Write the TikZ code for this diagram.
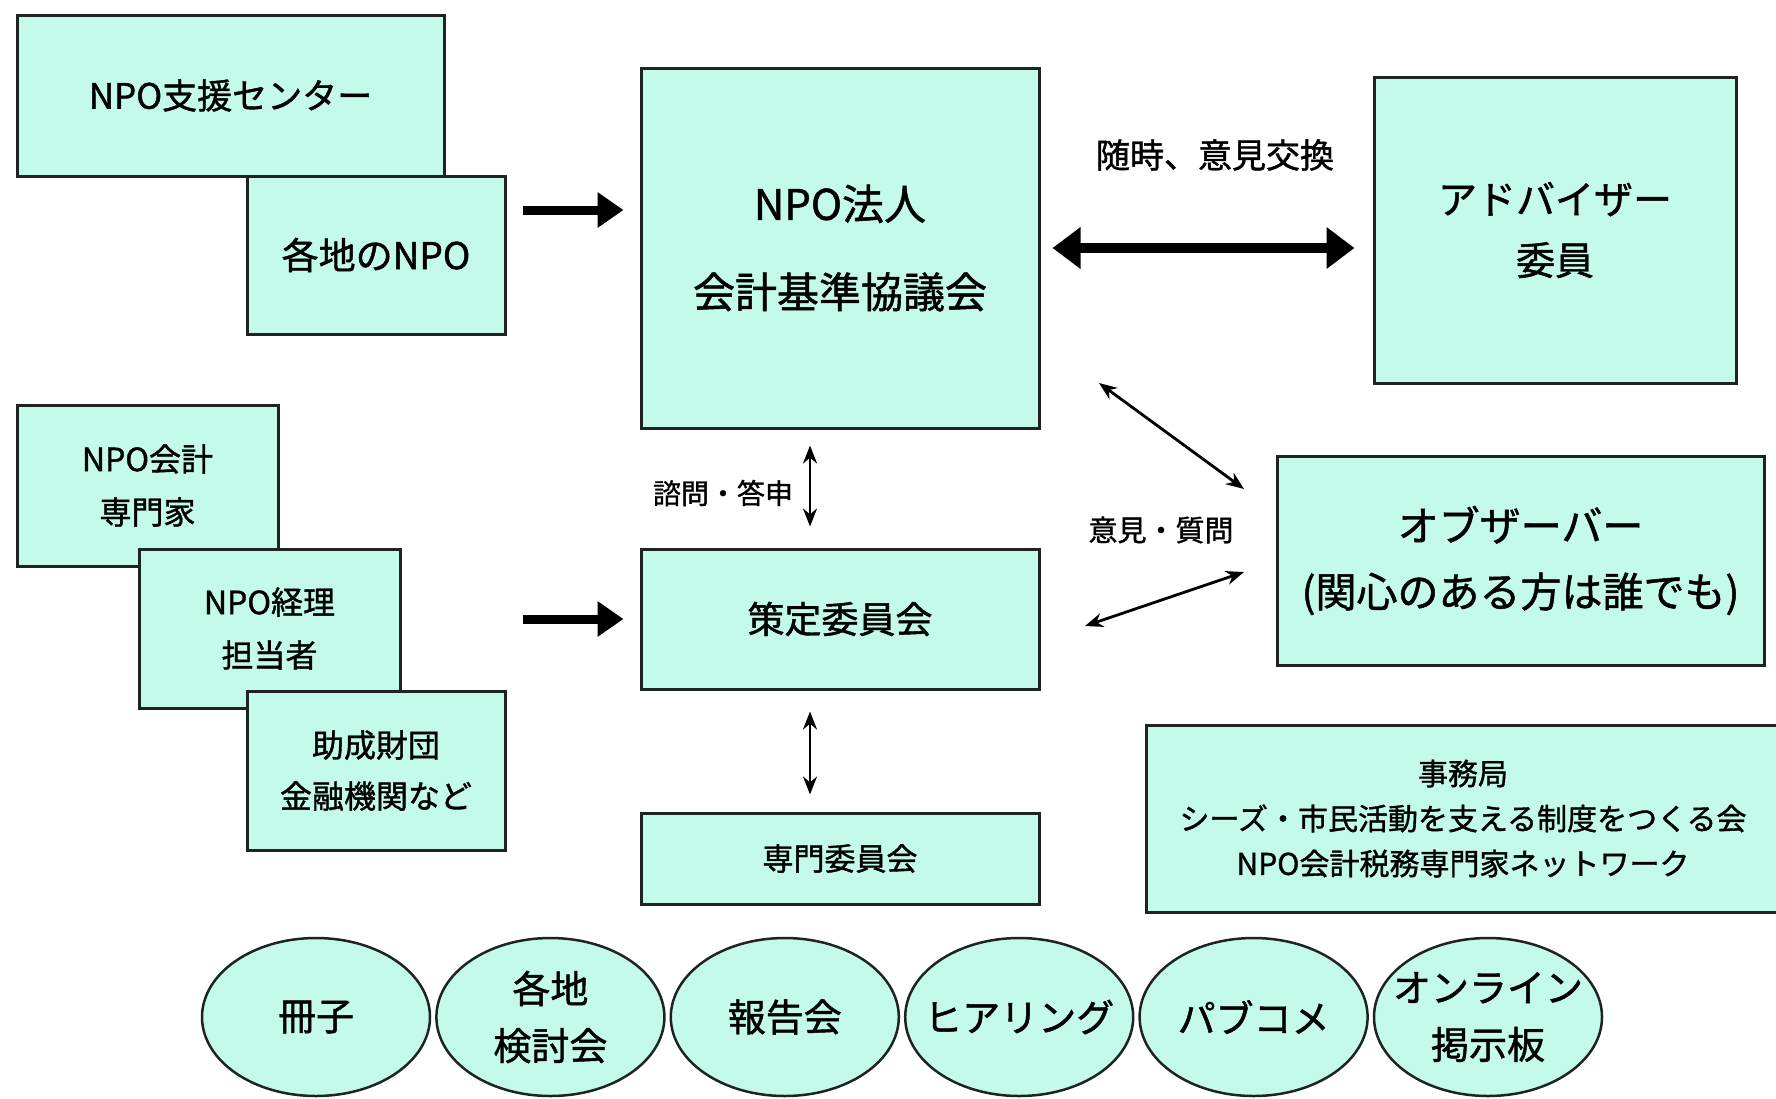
\documentclass[tikz,border=0pt]{standalone}
\usepackage{fontspec}
\setmainfont{Noto Sans CJK JP}[FakeBold=1.2]
\usetikzlibrary{arrows.meta,shapes.geometric}
\definecolor{mint}{RGB}{196,250,234}
\definecolor{edge}{RGB}{30,36,34}
\newcommand{\zw}[1]{\makebox[0pt]{#1}}
\tikzset{
  box/.style={draw=edge,fill=mint,line width=3pt,rectangle,align=center,inner sep=0pt},
  oval/.style={draw=edge,fill=mint,line width=2.5pt,ellipse,align=center,inner sep=0pt,
    minimum width=228pt,minimum height=158pt,font=\fontsize{38}{57}\selectfont},
  bigarrow/.style={line width=9pt,-{Triangle[length=26pt,width=34pt]},black},
  dblarrow/.style={line width=10pt,{Triangle[length=28pt,width=40pt]}-{Triangle[length=28pt,width=40pt]},black},
  thinarrow/.style={line width=2.8pt,{Stealth[length=18pt,width=14pt]}-{Stealth[length=18pt,width=14pt]},black},
  lbl/.style={inner sep=0pt,align=center}
}
\begin{document}
\begin{tikzpicture}[x=1pt,y=-1pt]
\useasboundingbox[fill=white] (0,0) rectangle (1776,1098);
% top-left stack
\node[box,minimum width=427pt,minimum height=161pt,font=\fontsize{35}{50}\selectfont] (shien) at (230.5,95.5) {NPO支援センター};
\node[box,minimum width=258pt,minimum height=158pt,font=\fontsize{37}{50}\selectfont] (kakuchi) at (376,255) {各地のNPO};
% center
\node[box,minimum width=398pt,minimum height=360pt,font=\fontsize{42}{88}\selectfont] (hojin) at (840,248) {NPO法人\\会計基準協議会};
\node[box,minimum width=398pt,minimum height=140pt,font=\fontsize{37}{50}\selectfont] (sakutei) at (840,619) {策定委員会};
\node[box,minimum width=398pt,minimum height=91pt,font=\fontsize{31}{45}\selectfont] (senmon) at (840,858.5) {専門委員会};
% right
\node[box,minimum width=362pt,minimum height=306pt,font=\fontsize{39}{61}\selectfont] (adv) at (1555,230) {アドバイザー\\委員};
\node[box,minimum width=487pt,minimum height=209pt,font=\fontsize{41}{66}\selectfont] (obs) at (1520.5,560.5) {オブザーバー\\(関心のある方は誰でも)};
\node[box,minimum width=634pt,minimum height=187pt,font=\fontsize{30}{45}\selectfont] (jimu) at (1463,818.5) {事務局\\シーズ・市民活動を支える制度をつくる会\\NPO会計税務専門家ネットワーク};
% left stack
\node[box,minimum width=261pt,minimum height=161pt,font=\fontsize{32}{53}\selectfont] (kaikei) at (147.5,485.5) {NPO会計\\専門家};
\node[box,minimum width=261pt,minimum height=159pt,font=\fontsize{32}{53}\selectfont] (keiri) at (269.5,628.5) {NPO経理\\担当者};
\node[box,minimum width=258pt,minimum height=159pt,font=\fontsize{32}{51}\selectfont] (josei) at (376,770.5) {助成財団\\金融機関など};
% ellipses
\node[oval] (e1) at (316,1017) {\zw{冊子}};
\node[oval] (e2) at (550.4,1017) {\zw{各地}\\\zw{検討会}};
\node[oval] (e3) at (784.8,1017) {\zw{報告会}};
\node[oval] (e4) at (1019.2,1017) {\zw{ヒアリング}};
\node[oval] (e5) at (1253.6,1017) {\zw{パブコメ}};
\node[oval] (e6) at (1488,1017) {\zw{オンライン}\\\zw{掲示板}};
% arrows
\coordinate (a1) at ([yshift=45pt]kakuchi.east);
\draw[bigarrow,shorten <=16pt,shorten >=16pt] (a1) -- (a1 -| hojin.west);
\draw[bigarrow,shorten <=16pt,shorten >=16pt] (josei.east |- sakutei.west) -- (sakutei.west);
\draw[dblarrow,shorten <=12pt,shorten >=18pt] (hojin.east) -- (hojin.east -| adv.west);
\coordinate (v1) at ([xshift=-30pt]hojin.south);
\coordinate (v2) at ([xshift=-30pt]sakutei.north);
\draw[thinarrow,shorten <=16pt,shorten >=21pt] (v1) -- (v2);
\coordinate (v3) at ([xshift=-30pt]sakutei.south);
\coordinate (v4) at ([xshift=-30pt]senmon.north);
\draw[thinarrow,shorten <=21pt,shorten >=17pt] (v3) -- (v4);
\coordinate (d1) at (1099,383);
\coordinate (d2) at (1244,489);
\draw[thinarrow] (d1) -- (d2);
\coordinate (d3) at (1085,626);
\coordinate (d4) at (1244,572);
\draw[thinarrow] (d3) -- (d4);
% labels
\node[lbl,font=\fontsize{34}{40}\selectfont] (l1) at (1215,155) {随時、意見交換};
\node[lbl,font=\fontsize{28}{34}\selectfont] (l2) at (723,493) {諮問・答申};
\node[lbl,font=\fontsize{29}{34}\selectfont] (l3) at (1161,530) {意見・質問};
\end{tikzpicture}
\end{document}
